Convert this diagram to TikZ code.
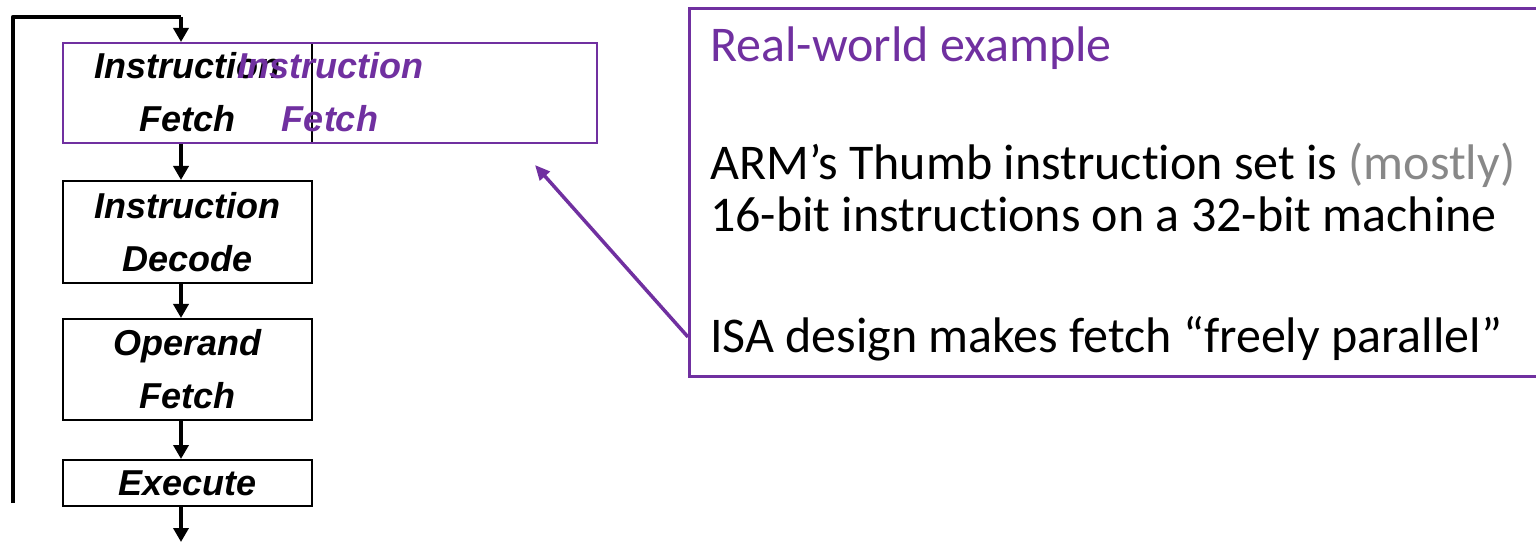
\documentclass[tikz,border=0pt]{standalone}
\usepackage{fontspec}
\setmainfont{Liberation Sans}
\newfontfamily\calloutfont[Ligatures=NoCommon]{Carlito}
\usetikzlibrary{arrows.meta}
\definecolor{ispurple}{RGB}{112,48,160}
\definecolor{softgray}{RGB}{136,136,136}
\tikzset{
  stagebox/.style={draw=black, line width=2bp, minimum width=249bp, inner sep=0pt,
    align=center, font=\fontsize{36bp}{53bp}\selectfont\bfseries\itshape},
  widebox/.style={draw=ispurple, line width=2bp, minimum width=534bp, minimum height=100bp,
    inner sep=0pt, align=center, text=ispurple,
    font=\fontsize{36bp}{53bp}\selectfont\bfseries\itshape},
  flow/.style={line width=4.5bp, -{Triangle[width=15bp,length=14bp]}},
  loopline/.style={line width=4.5bp, line join=round},
  callout/.style={draw=ispurple, line width=3bp, minimum width=870bp, minimum height=368bp,
    inner sep=0pt, anchor=north west},
  callarrow/.style={draw=ispurple, line width=3.5bp, -{Triangle[width=13bp,length=15bp]}},
  bodytext/.style={anchor=base west, inner sep=0pt, font=\calloutfont\fontsize{50bp}{60bp}\selectfont},
}
\begin{document}
\begin{tikzpicture}[x=1bp,y=-1bp]
  \useasboundingbox (0,0) rectangle (1536,544);
  \clip (0,0) rectangle (1536,544);

  % pipeline stages
  \node[stagebox, minimum height=100bp] (fetch) at (187.5,93) {\raisebox{2bp}{Instruction}\\\raisebox{2bp}{Fetch}};
  \node[stagebox, minimum height=102bp] (decode) at (187.5,232) {Instruction\\Decode};
  \node[stagebox, minimum height=101bp] (operand) at (187.5,369.5) {Operand\\Fetch};
  \node[stagebox, minimum height=46bp] (execute) at (187.5,483) {Execute};

  % widened fetch stage
  \node[widebox] (widefetch) at (330,93) {\raisebox{2bp}{Instruction}\\\raisebox{2bp}{Fetch}};

  % arrow column and loop points
  \coordinate (ax) at (181,0);
  \coordinate (loopstart) at (13,503);
  \coordinate (loopcorner) at (13,17);
  \coordinate (looptop) at (181,17);
  \coordinate (out) at (181,542);

  \draw[loopline] (loopstart) -- (loopcorner) -- (looptop);
  \draw[flow] (looptop) -- (fetch.north -| ax);
  \draw[flow] (fetch.south -| ax) -- (decode.north -| ax);
  \draw[flow] (decode.south -| ax) -- (operand.north -| ax);
  \draw[flow] (operand.south -| ax) -- (execute.north -| ax);
  \draw[flow] (execute.south -| ax) -- (out);

  % callout
  \node[callout] (note) at (688,7) {};
  \node[bodytext, text=ispurple] (title) at (710,62) {Real-world example};
  \node[bodytext] (lineone) at (710,180) {ARM’s Thumb instruction set is \textcolor{softgray}{(mostly)}};
  \node[bodytext] (linetwo) at (710,232) {16-bit instructions on a 32-bit machine};
  \node[bodytext] (linethree) at (710,352) {ISA design makes fetch “freely parallel”};

  \coordinate (notefoot) at (688,337);
  \coordinate (tip) at (535,165);
  \draw[callarrow] (notefoot) -- (tip);
\end{tikzpicture}
\end{document}
